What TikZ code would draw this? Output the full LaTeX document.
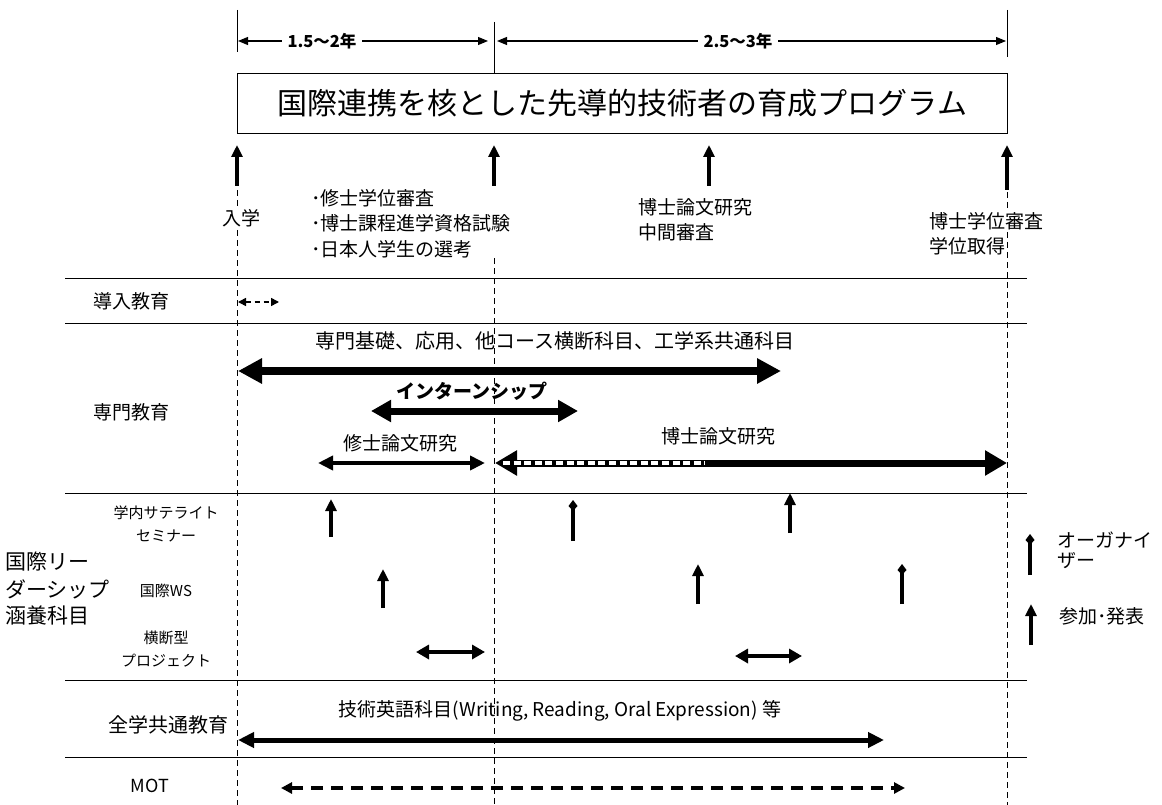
\documentclass[tikz,border=0pt]{standalone}
\usepackage{fontspec}
\setmainfont{Noto Sans CJK JP}
\usetikzlibrary{arrows.meta}
\begin{document}
\begin{tikzpicture}[x=1pt,y=-1pt,
  font=\fontsize{19}{22}\selectfont,
  vdash/.style={line width=0.9pt, dash pattern=on 6pt off 4pt},
  hline/.style={line width=1pt},
  txt/.style={inner sep=1pt},
  wtxt/.style={inner sep=1pt, fill=white},
  small/.style={font=\fontsize{15}{18}\selectfont, inner sep=1pt},
  dimar/.style={line width=1.1pt, {Triangle[length=10pt,width=8pt]}-{Triangle[length=10pt,width=8pt]}},
  upar/.style={line width=3.5pt, -{Triangle[length=12pt,width=11pt]}},
  orgar/.style={line width=3.5pt, -{Kite[length=11pt,width=9pt,inset=5pt]}},
  bigar/.style={line width=8pt, {Triangle[length=24pt,width=24pt]}-{Triangle[length=24pt,width=24pt]}},
  midar/.style={line width=7pt, {Triangle[length=20pt,width=21pt]}-{Triangle[length=20pt,width=21pt]}},
  phdar/.style={line width=7pt, {Triangle[length=22pt,width=24pt]}-{Triangle[length=22pt,width=24pt]}},
  msar/.style={line width=4pt, {Triangle[length=15pt,width=14pt]}-{Triangle[length=15pt,width=14pt]}},
  prjar/.style={line width=4pt, {Triangle[length=13pt,width=14pt]}-{Triangle[length=13pt,width=14pt]}},
  engar/.style={line width=5pt, {Triangle[length=16pt,width=15pt]}-{Triangle[length=16pt,width=15pt]}},
  introar/.style={line width=1.5pt, dash pattern=on 5pt off 4pt, {Triangle[length=8pt,width=8pt]}-{Triangle[length=8pt,width=8pt]}},
  motar/.style={line width=4pt, dash pattern=on 12pt off 8pt, {Triangle[length=11pt,width=11pt]}-{Triangle[length=11pt,width=11pt]}}
]
\useasboundingbox (0,0) rectangle (1162,805);
\fill[white] (0,0) rectangle (1162,805);

% key x positions
\coordinate (tl1) at (237,10); \coordinate (tl2) at (237,52);
\coordinate (tm1) at (494,22); \coordinate (tm2) at (494,73);
\coordinate (tr1) at (1007,10); \coordinate (tr2) at (1007,57);
\draw[hline] (tl1) -- (tl2);
\draw[hline] (tm1) -- (tm2);
\draw[hline] (tr1) -- (tr2);

% dimension arrows
\coordinate (d1a) at (238,41); \coordinate (d1b) at (488,41);
\coordinate (d2a) at (497,41); \coordinate (d2b) at (1006,41);
\draw[dimar] (d1a) -- (d1b);
\draw[dimar] (d2a) -- (d2b);
\node[wtxt, inner xsep=6pt, font=\fontsize{16.5}{19}\selectfont\bfseries] (dl1) at (322,41) {1.5～2年};
\node[wtxt, inner xsep=6pt, font=\fontsize{16.5}{19}\selectfont\bfseries] (dl2) at (738,41) {2.5～3年};

% title
\node[draw, line width=1pt, minimum width=770pt, minimum height=60pt, anchor=north west,
      inner sep=0pt, font=\fontsize{30}{34}\selectfont] (title) at (237,73) {国際連携を核とした先導的技術者の育成プログラム};

% vertical dashed lines
\coordinate (v1a) at (237,190); \coordinate (v1b) at (237,805);
\coordinate (v2a) at (494,258); \coordinate (v2b) at (494,805);
\coordinate (v3a) at (1007,192); \coordinate (v3b) at (1007,805);
\draw[vdash] (v1a) -- (v1b);
\draw[vdash] (v2a) -- (v2b);
\draw[vdash] (v3a) -- (v3b);

% milestone arrows
\coordinate (m1b) at (237,186); \coordinate (m1t) at (237,145);
\coordinate (m2b) at (494,186); \coordinate (m2t) at (494,145);
\coordinate (m3b) at (709,186); \coordinate (m3t) at (709,145);
\coordinate (m4b) at (1007,190); \coordinate (m4t) at (1007,145);
\draw[upar] (m1b) -- (m1t);
\draw[upar] (m2b) -- (m2t);
\draw[upar] (m3b) -- (m3t);
\draw[upar] (m4b) -- (m4t);

% milestone labels
\node[wtxt] (nyugaku) at (241,218) {入学};
\node[txt, anchor=west] (ms1) at (310,198) {･修士学位審査};
\node[txt, anchor=west] (ms2) at (310,223) {･博士課程進学資格試験};
\node[txt, anchor=west] (ms3) at (310,249) {･日本人学生の選考};
\node[txt, anchor=west] (mid1) at (637,207) {博士論文研究};
\node[txt, anchor=west] (mid2) at (637,232) {中間審査};
\node[wtxt, anchor=west] (fin1) at (928,221) {博士学位審査};
\node[wtxt, anchor=west] (fin2) at (928,246) {学位取得};

% row separators
\foreach \yy/\nm in {278/r1, 323/r2, 493/r3, 680/r4, 757/r5} {
  \coordinate (\nm a) at (65,\yy); \coordinate (\nm b) at (1027,\yy);
  \draw[hline] (\nm a) -- (\nm b);
}

% row 1
\node[txt] (intro) at (131,301) {導入教育};
\coordinate (ia) at (238,302); \coordinate (ib) at (279,302);
\draw[introar] (ia) -- (ib);

% row 2
\node[txt] (senmon) at (131,412) {専門教育};
\node[txt, font=\fontsize{20}{24}\selectfont] (kiso) at (555,341) {専門基礎、応用、他コース横断科目、工学系共通科目};
\coordinate (ka) at (238,371); \coordinate (kb) at (781,371);
\draw[bigar] (ka) -- (kb);
\node[txt, font=\fontsize{19}{22}\selectfont\bfseries] (intern) at (472,391) {インターンシップ};
\coordinate (ina) at (371,411); \coordinate (inb) at (578,411);
\draw[midar] (ina) -- (inb);
\node[txt] (shushi) at (400,443) {修士論文研究};
\coordinate (sa) at (318,463); \coordinate (sb) at (485,463);
\draw[msar] (sa) -- (sb);
\node[txt] (hakushi) at (718,436) {博士論文研究};
\coordinate (ha) at (495,463); \coordinate (hb) at (1007,463);
\draw[phdar] (ha) -- (hb);
\coordinate (hda) at (503,463); \coordinate (hdb) at (705,463);
\draw[white, line width=4pt, dash pattern=on 7pt off 3.6pt] (hda) -- (hdb);

% row 3
\node[txt, anchor=west, font=\fontsize{21}{24}\selectfont] (kl1) at (4,562) {国際リー};
\node[txt, anchor=west, font=\fontsize{21}{24}\selectfont] (kl2) at (4,589) {ダーシップ};
\node[txt, anchor=west, font=\fontsize{21}{24}\selectfont] (kl3) at (4,616) {涵養科目};
\node[small] (sat1) at (166,513) {学内サテライト};
\node[small] (sat2) at (166,536) {セミナー};
\node[small] (ws) at (166,591) {国際WS};
\node[small] (pj1) at (166,638) {横断型};
\node[small] (pj2) at (166,661) {プロジェクト};

\coordinate (s1b) at (331,537); \coordinate (s1t) at (331,499);
\coordinate (s2b) at (573,541); \coordinate (s2t) at (573,500);
\coordinate (s3b) at (790,533); \coordinate (s3t) at (790,493);
\draw[upar] (s1b) -- (s1t);
\draw[orgar] (s2b) -- (s2t);
\draw[upar] (s3b) -- (s3t);

\coordinate (w1b) at (383,608); \coordinate (w1t) at (383,569);
\coordinate (w2b) at (698,604); \coordinate (w2t) at (698,564);
\coordinate (w3b) at (902,604); \coordinate (w3t) at (902,564);
\draw[upar] (w1b) -- (w1t);
\draw[upar] (w2b) -- (w2t);
\draw[orgar] (w3b) -- (w3t);

\coordinate (p1a) at (416,652); \coordinate (p1b) at (485,652);
\coordinate (p2a) at (735,656); \coordinate (p2b) at (802,656);
\draw[prjar] (p1a) -- (p1b);
\draw[prjar] (p2a) -- (p2b);

% legend
\coordinate (lg1b) at (1030,575); \coordinate (lg1t) at (1030,534);
\coordinate (lg2b) at (1031,645); \coordinate (lg2t) at (1031,604);
\draw[orgar] (lg1b) -- (lg1t);
\draw[upar] (lg2b) -- (lg2t);
\node[txt, anchor=west] (lgt1) at (1056,540) {オーガナイ};
\node[txt, anchor=west] (lgt2) at (1056,561) {ザー};
\node[txt, anchor=west] (lgt3) at (1058,616) {参加･発表};

% row 4
\node[txt, anchor=east, font=\fontsize{20}{24}\selectfont] (zengaku) at (230,725) {全学共通教育};
\node[txt] (eng) at (560,711) {技術英語科目(Writing, Reading, Oral Expression) 等};
\coordinate (ea) at (238,740); \coordinate (eb) at (884,740);
\draw[engar] (ea) -- (eb);

% row 5
\node[txt, font=\fontsize{18}{22}\selectfont] (mot) at (150,786) {MOT};
\coordinate (moa) at (281,788); \coordinate (mob) at (905,788);
\draw[motar] (moa) -- (mob);
\end{tikzpicture}
\end{document}
